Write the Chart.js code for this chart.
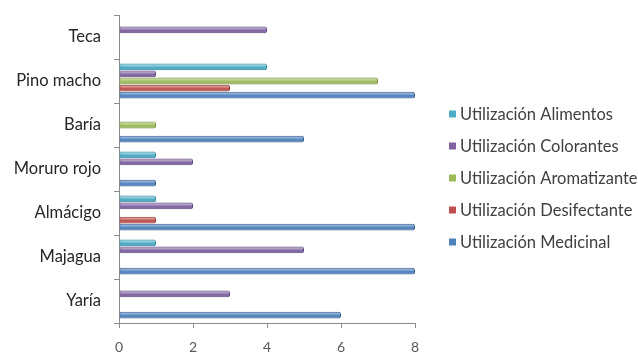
<!DOCTYPE html>
<html>
<head>
<meta charset="utf-8">
<script src="https://cdn.jsdelivr.net/npm/chart.js@4/dist/chart.umd.min.js"></script>
<style>
  html, body { margin: 0; padding: 0; background: #ffffff; }
  #wrap { width: 638px; height: 359px; }
</style>
</head>
<body>
<div id="wrap"><canvas id="c" width="638" height="359"></canvas></div>
<script>
// Especies (de arriba hacia abajo) y número de usos por tipo
const especies = ['Teca', 'Pino macho', 'Baría', 'Moruro rojo', 'Almácigo', 'Majagua', 'Yaría'];
const alimentos     = [0, 4, 0, 1, 1, 1, 0];
const colorantes    = [4, 1, 0, 2, 2, 5, 3];
const aromatizante  = [0, 7, 1, 0, 0, 0, 0];
const desinfectante = [0, 3, 0, 0, 1, 0, 0];
const medicinal     = [0, 8, 5, 1, 8, 8, 6];

const nombresSerie = [
  'Utilización Alimentos',
  'Utilización Colorantes',
  'Utilización Aromatizante',
  'Utilización Desifectante',
  'Utilización Medicinal'
];
const coloresSerie = ['#4BACC6', '#8064A2', '#9BBB59', '#C0504D', '#4F81BD'];
const bordesSerie  = ['#33869D', '#5B4680', '#728E3C', '#8E3431', '#345E92'];
const valoresSerie = [alimentos, colorantes, aromatizante, desinfectante, medicinal];

const datasets = valoresSerie.map((vals, i) => ({
  label: nombresSerie[i],
  data: vals,
  backgroundColor: coloresSerie[i],
  borderColor: bordesSerie[i],
  borderWidth: 1,
  borderSkipped: 'start',
  borderRadius: 2,
  categoryPercentage: 0.8,
  barPercentage: 0.97
}));

// Brillo cilíndrico sobre cada barra
const brillo = {
  id: 'brillo',
  afterDatasetsDraw(chart) {
    const ctx = chart.ctx;
    chart.data.datasets.forEach((ds, di) => {
      const meta = chart.getDatasetMeta(di);
      meta.data.forEach(el => {
        const p = el.getProps(['x', 'y', 'base', 'height'], true);
        const w = p.x - p.base;
        if (w < 1) return;
        const top = p.y - p.height / 2;
        const g = ctx.createLinearGradient(0, top, 0, top + p.height);
        g.addColorStop(0, 'rgba(255,255,255,0.15)');
        g.addColorStop(0.3, 'rgba(255,255,255,0.38)');
        g.addColorStop(0.6, 'rgba(255,255,255,0.0)');
        g.addColorStop(1, 'rgba(0,0,0,0.25)');
        ctx.save();
        ctx.fillStyle = g;
        ctx.fillRect(p.base + 1, top + 1, w - 2, p.height - 2);
        ctx.restore();
      });
    });
  }
};

// Leyenda a la derecha, centrada verticalmente
const leyenda = {
  id: 'leyenda',
  afterDraw(chart) {
    const ctx = chart.ctx;
    const n = chart.data.datasets.length;
    const paso = 32;
    const y0 = chart.height / 2 - paso * (n - 1) / 2 - 1;
    const x0 = chart.chartArea.right + 34;
    ctx.save();
    ctx.font = '16.5px Lato';
    ctx.textBaseline = 'middle';
    ctx.textAlign = 'left';
    chart.data.datasets.forEach((ds, i) => {
      const y = y0 + i * paso;
      ctx.fillStyle = ds.backgroundColor;
      ctx.fillRect(x0, y - 4, 7, 7);
      ctx.fillStyle = '#404040';
      ctx.fillText(ds.label, x0 + 11, y);
    });
    ctx.restore();
  }
};

new Chart(document.getElementById('c'), {
  type: 'bar',
  data: { labels: especies, datasets },
  options: {
    indexAxis: 'y',
    responsive: false,
    animation: false,
    devicePixelRatio: 1,
    layout: { padding: { top: 15, right: 223, bottom: 0, left: 0 } },
    plugins: {
      legend: { display: false },
      tooltip: { enabled: false }
    },
    scales: {
      x: {
        type: 'linear',
        min: 0,
        max: 8,
        ticks: {
          stepSize: 2,
          color: '#595959',
          font: { family: 'Lato', size: 14 },
          padding: 11
        },
        grid: {
          drawOnChartArea: false,
          drawTicks: true,
          tickLength: 5,
          color: '#8c8c8c'
        },
        border: { display: true, color: '#8c8c8c' },
        afterFit(s) { s.height = 36; }
      },
      y: {
        ticks: {
          color: '#262626',
          font: { family: 'Lato', size: 16.5 },
          padding: 13
        },
        grid: {
          drawOnChartArea: false,
          drawTicks: true,
          tickLength: 5,
          color: '#8c8c8c'
        },
        border: { display: true, color: '#8c8c8c' },
        afterFit(s) {
          s.width = 119;
          s.paddingTop = 0;
          s.paddingBottom = 0;
        }
      }
    }
  },
  plugins: [brillo, leyenda]
});
</script>
</body>
</html>
